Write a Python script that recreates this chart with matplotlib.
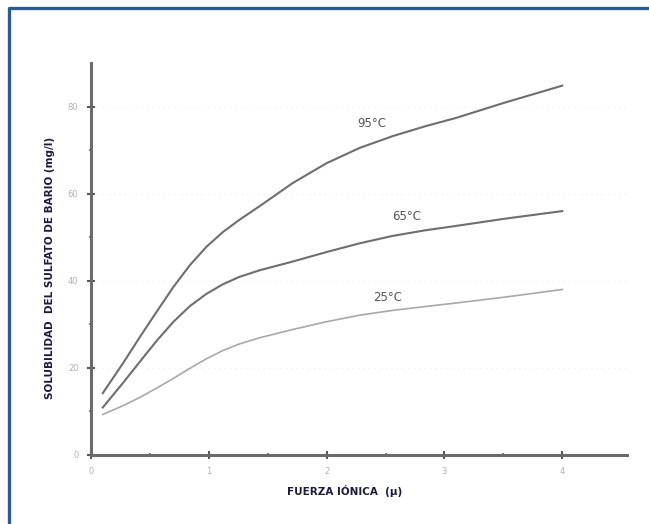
import matplotlib.pyplot as plt
from matplotlib.lines import Line2D

fuerza = [0.1, 0.27, 0.42, 0.56, 0.7, 0.84, 0.98, 1.12, 1.26, 1.43, 1.71, 2.0, 2.28, 2.56, 2.84, 3.1, 3.5, 4.0]
sol_95 = [14.2, 21.0, 27.3, 33.0, 38.6, 43.6, 47.8, 51.2, 54.0, 57.1, 62.4, 67.0, 70.5, 73.2, 75.5, 77.4, 80.8, 84.8]
sol_65 = [10.9, 16.5, 21.6, 26.3, 30.6, 34.2, 37.0, 39.2, 40.9, 42.4, 44.4, 46.6, 48.6, 50.3, 51.6, 52.6, 54.2, 56.0]
sol_25 = [9.3, 11.3, 13.3, 15.4, 17.6, 19.9, 22.1, 24.0, 25.5, 26.9, 28.8, 30.6, 32.1, 33.2, 34.1, 34.9, 36.2, 38.0]

x_ticks = [0, 1, 2, 3, 4]
y_ticks = [0, 20, 40, 60, 80]

fig = plt.figure(figsize=(6.49, 5.24), dpi=100)
ax = fig.add_axes([91/649, 69/524, 536/649, 392/524])

# faint scan grid
for yv in y_ticks[1:]:
    ax.axhline(yv, color='#e8e8f0', lw=0.8, ls=(0, (1, 4)), zorder=0)

ax.plot(fuerza, sol_95, color='#6e6e6e', lw=1.5, solid_joinstyle='round')
ax.plot(fuerza, sol_65, color='#6e6e6e', lw=1.5, solid_joinstyle='round')
ax.plot(fuerza, sol_25, color='#a8a8a8', lw=1.2, solid_joinstyle='round')

ax.text(2.38, 76.2, '95°C', fontsize=8.5, color='#555555', ha='center', va='center')
ax.text(2.68, 54.8, '65°C', fontsize=8.5, color='#555555', ha='center', va='center')
ax.text(2.52, 36.1, '25°C', fontsize=8.5, color='#555555', ha='center', va='center')

ax.set_xlim(0, 4.55)
ax.set_ylim(0, 90)
ax.set_xticks(x_ticks)
ax.set_yticks(y_ticks)
ax.set_xticks([0.5, 1.5, 2.5, 3.5], minor=True)
ax.set_yticks([10, 30, 50, 70], minor=True)
ax.spines['top'].set_visible(False)
ax.spines['right'].set_visible(False)
for s in ['left', 'bottom']:
    ax.spines[s].set_color('#6a6a6a')
    ax.spines[s].set_linewidth(2.2)
ax.tick_params(which='major', direction='inout', length=6, width=1.5, color='#555555',
               labelsize=6, labelcolor='#b0b0b0', pad=6)
ax.tick_params(which='minor', direction='inout', length=3, width=1.2, color='#666666')

fig.text(345/649, 1 - 491/524, 'FUERZA IÓNICA  (µ)', fontsize=7.5, fontweight='bold',
         color='#1c1c3a', ha='center', va='center')
fig.text(50/649, 1 - 268/524, 'SOLUBILIDAD  DEL SULFATO DE BARIO (mg/l)', fontsize=7.5,
         fontweight='bold', color='#1c1c3a', ha='center', va='center', rotation=90)

# blue frame (left and top)
fig.add_artist(Line2D([9/649, 9/649, 1.0], [0.0, 1 - 8/524, 1 - 8/524],
                      transform=fig.transFigure, color='#2f5a8c', lw=2.4))

fig.savefig('out.png', dpi=100)
